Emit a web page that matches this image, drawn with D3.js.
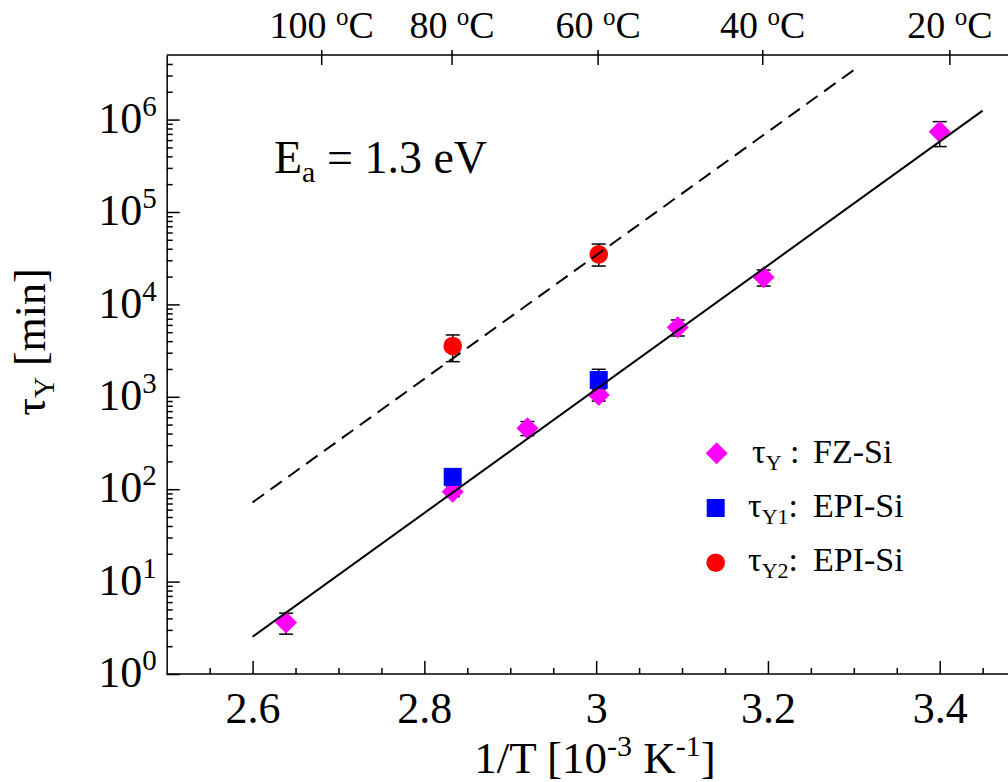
<!DOCTYPE html>
<html>
<head>
<meta charset="utf-8">
<script src="https://cdn.jsdelivr.net/npm/d3@7"></script>
<style>
  html, body { margin: 0; padding: 0; background: #fff; }
  svg { display: block; }
  text { font-family: "Liberation Serif", "Times New Roman", serif; fill: #000; }
</style>
</head>
<body>
<svg id="chart" width="1008" height="782"></svg>
<script>
// ---------- data ----------
const fzX  = [2.639, 2.833, 2.920, 3.003, 3.095, 3.195, 3.400];
const fzY  = [3.6, 94, 456, 1046, 5650, 19650, 740000];
const fzLo = [2.7, 83, 380, 900, 4550, 15800, 510000];
const fzHi = [4.55, 107, 540, 1200, 6780, 23600, 950000];

const epi1X  = [2.833, 3.003];
const epi1Y  = [136, 1520];
const epi1Lo = [122, 1020];
const epi1Hi = [150, 1985];

const epi2X  = [2.833, 3.003];
const epi2Y  = [3550, 34800];
const epi2Lo = [2400, 26000];
const epi2Hi = [4670, 45000];

const fitSolidX  = [2.6, 3.45];
const fitSolidY  = [2.53, 1.25e6];
const fitDashedX = [2.6, 3.3];
const fitDashedY = [72, 3.44e6];

const xMajorTicks = [2.6, 2.8, 3.0, 3.2, 3.4];
const xMinorTicks = [2.55, 2.65, 2.7, 2.75, 2.85, 2.9, 2.95, 3.05, 3.1, 3.15, 3.25, 3.3, 3.35, 3.45, 3.5];
const yMajorExp   = [0, 1, 2, 3, 4, 5, 6];
const tempC       = [100, 80, 60, 40, 20];

// ---------- layout ----------
const svg = d3.select("#chart");
const plotLeft = 166.7, plotTop = 55, plotBottom = 674, pxPerUnit = 858.9;
const x = d3.scaleLinear().domain([2.5, 3.5]).range([plotLeft, plotLeft + pxPerUnit]);
const y = d3.scaleLog().domain([1, 5e6]).range([plotBottom, plotTop]);

const FONT = "Liberation Serif, Times New Roman, serif";

const lineGen = d3.line().x(d => x(d[0])).y(d => y(d[1]));

// ---------- error bars ----------
function errorBars(xs, lo, hi) {
  const g = svg.append("g").attr("stroke", "#000").attr("stroke-width", 1.5).attr("fill", "none");
  xs.forEach((xv, i) => {
    const cx = x(xv);
    g.append("line").attr("x1", cx).attr("x2", cx).attr("y1", y(lo[i])).attr("y2", y(hi[i]));
    g.append("line").attr("x1", cx - 7).attr("x2", cx + 7).attr("y1", y(lo[i])).attr("y2", y(lo[i]));
    g.append("line").attr("x1", cx - 7).attr("x2", cx + 7).attr("y1", y(hi[i])).attr("y2", y(hi[i]));
  });
}
errorBars(fzX, fzLo, fzHi);
errorBars(epi1X, epi1Lo, epi1Hi);
errorBars(epi2X, epi2Lo, epi2Hi);

// ---------- markers ----------
const diamondPath = (cx, cy, r) => `M${cx},${cy - r}L${cx + r},${cy}L${cx},${cy + r}L${cx - r},${cy}Z`;
svg.append("g").selectAll("path").data(fzX).join("path")
  .attr("d", (d, i) => diamondPath(x(d), y(fzY[i]), 11))
  .attr("fill", "#ff00ff");
svg.append("g").selectAll("rect").data(epi1X).join("rect")
  .attr("x", d => x(d) - 9).attr("y", (d, i) => y(epi1Y[i]) - 9)
  .attr("width", 18).attr("height", 18).attr("fill", "#0000ff");
svg.append("g").selectAll("circle").data(epi2X).join("circle")
  .attr("cx", d => x(d)).attr("cy", (d, i) => y(epi2Y[i])).attr("r", 9.3)
  .attr("fill", "#ff0000");

// ---------- fit lines ----------
svg.append("path")
  .datum(fitSolidX.map((v, i) => [v, fitSolidY[i]]))
  .attr("d", lineGen).attr("fill", "none").attr("stroke", "#000").attr("stroke-width", 2);
svg.append("path")
  .datum(fitDashedX.map((v, i) => [v, fitDashedY[i]]))
  .attr("d", lineGen).attr("fill", "none").attr("stroke", "#000").attr("stroke-width", 2)
  .attr("stroke-dasharray", "14,8");

// ---------- axes ----------
const gxMaj = svg.append("g").attr("transform", `translate(0,${plotBottom})`)
  .call(d3.axisBottom(x).tickValues(xMajorTicks).tickSizeInner(-13).tickSizeOuter(0).tickPadding(17.5)
    .tickFormat(d => Math.abs(d - 3) < 1e-9 ? "3" : d3.format(".1f")(d)));
gxMaj.attr("font-family", FONT).attr("font-size", 44);
gxMaj.selectAll("line, path").attr("stroke", "#000").attr("stroke-width", 1.5);
gxMaj.select(".domain").attr("d", `M${plotLeft},0H1008`);
const gxMin = svg.append("g").attr("transform", `translate(0,${plotBottom})`)
  .call(d3.axisBottom(x).tickValues(xMinorTicks).tickSizeInner(-6).tickSizeOuter(0).tickFormat(""));
gxMin.select(".domain").remove();
gxMin.selectAll("line").attr("stroke", "#000").attr("stroke-width", 1.5);

const yMajors = yMajorExp.map(e => Math.pow(10, e));
const gyMaj = svg.append("g").attr("transform", `translate(${plotLeft},0)`)
  .call(d3.axisLeft(y).tickValues(yMajors).tickSizeInner(-13).tickSizeOuter(0).tickPadding(10).tickFormat(""));
gyMaj.attr("font-family", FONT).attr("font-size", 44);
gyMaj.selectAll("line, path").attr("stroke", "#000").attr("stroke-width", 1.5);
gyMaj.selectAll(".tick text").each(function(d) {
  const t = d3.select(this).attr("dy", 12.7);
  t.append("tspan").text("10");
  t.append("tspan").attr("font-size", 29).attr("dy", -17).text(String(Math.round(Math.log10(d))));
});
const yMinors = [];
for (let e = 0; e <= 6; e++) for (let m = 2; m <= 9; m++) { const v = m * Math.pow(10, e); if (v < 5e6) yMinors.push(v); }
const gyMin = svg.append("g").attr("transform", `translate(${plotLeft},0)`)
  .call(d3.axisLeft(y).tickValues(yMinors).tickSizeInner(-6).tickSizeOuter(0).tickFormat(""));
gyMin.select(".domain").remove();
gyMin.selectAll("line").attr("stroke", "#000").attr("stroke-width", 1.5);

const tempX = tempC.map(c => 1000 / (c + 273.15));
const gTop = svg.append("g").attr("transform", `translate(0,${plotTop})`)
  .call(d3.axisTop(x).tickValues(tempX).tickSizeInner(-10).tickSizeOuter(0).tickPadding(16.7).tickFormat(""));
gTop.attr("font-family", FONT).attr("font-size", 38);
gTop.selectAll("line, path").attr("stroke", "#000").attr("stroke-width", 1.5);
gTop.selectAll(".tick line").attr("y1", -5);
gTop.select(".domain").attr("d", `M${plotLeft},0H1008`);
gTop.selectAll(".tick text").each(function(d, i) {
  const t = d3.select(this);
  t.append("tspan").text(tempC[i] + " ");
  t.append("tspan").attr("font-size", 25).attr("dy", -13).text("o");
  t.append("tspan").attr("dy", 13).text("C");
});

// ---------- titles ----------
const xt = svg.append("text").attr("x", 595).attr("y", 773).attr("text-anchor", "middle")
  .attr("font-size", 45);
xt.append("tspan").text("1/T [10");
xt.append("tspan").attr("font-size", 30).attr("dy", -17).text("-3");
xt.append("tspan").attr("dy", 17).text(" K");
xt.append("tspan").attr("font-size", 30).attr("dy", -17).text("-1");
xt.append("tspan").attr("dy", 17).text("]");

const yt = svg.append("text").attr("transform", "translate(45,342) rotate(-90)")
  .attr("text-anchor", "middle").attr("font-size", 44);
yt.append("tspan").text("τ");
yt.append("tspan").attr("font-size", 29).attr("dy", 9).text("Y");
yt.append("tspan").attr("dy", -9).text(" [min]");

const ea = svg.append("text").attr("x", 274).attr("y", 172.7).attr("font-size", 46);
ea.append("tspan").text("E");
ea.append("tspan").attr("font-size", 30).attr("dy", 9).text("a");
ea.append("tspan").attr("dy", -9).text(" = 1.3 eV");

// ---------- legend ----------
const legendItems = [
  { sub: "Y",  colon: " :", label: "FZ-Si",  tx: 752, by: 463.3, mx: 716.7, my: 453.3, kind: "diamond", color: "#ff00ff" },
  { sub: "Y1", colon: ":",  label: "EPI-Si", tx: 748, by: 516.7, mx: 715.7, my: 508,   kind: "square",  color: "#0000ff" },
  { sub: "Y2", colon: ":",  label: "EPI-Si", tx: 748, by: 571,   mx: 715.7, my: 562.7, kind: "circle",  color: "#ff0000" }
];
legendItems.forEach(it => {
  if (it.kind === "diamond") svg.append("path").attr("d", diamondPath(it.mx, it.my, 11)).attr("fill", it.color);
  if (it.kind === "square") svg.append("rect").attr("x", it.mx - 9).attr("y", it.my - 9).attr("width", 18).attr("height", 18).attr("fill", it.color);
  if (it.kind === "circle") svg.append("circle").attr("cx", it.mx).attr("cy", it.my).attr("r", 9.3).attr("fill", it.color);
  const t = svg.append("text").attr("x", it.tx).attr("y", it.by).attr("font-size", 34);
  t.append("tspan").text("τ");
  t.append("tspan").attr("font-size", 22).attr("dy", 7).text(it.sub);
  t.append("tspan").attr("dy", -7).text(it.colon);
  t.append("tspan").attr("x", 813).text(it.label);
});
</script>
</body>
</html>
